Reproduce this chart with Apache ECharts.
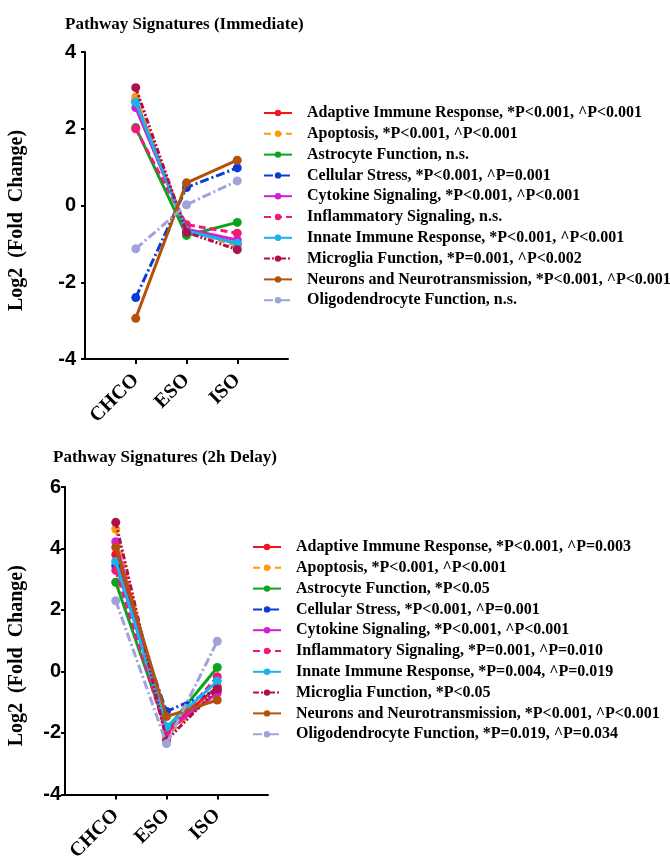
<!DOCTYPE html>
<html>
<head>
<meta charset="utf-8">
<script src="https://cdn.jsdelivr.net/npm/echarts@6/dist/echarts.min.js"></script>
<style>
  html, body { margin: 0; padding: 0; background: #fff; }
  #chart { width: 670px; height: 864px; }
</style>
</head>
<body>
<div id="chart"></div>
<script>
// categories on the x axis
const categories = ['CHCO', 'ESO', 'ISO'];

const pathways = [
  'Adaptive Immune Response', 'Apoptosis', 'Astrocyte Function', 'Cellular Stress',
  'Cytokine Signaling', 'Inflammatory Signaling', 'Innate Immune Response',
  'Microglia Function', 'Neurons and Neurotransmission', 'Oligodendrocyte Function'
];

const statsImmediate = [
  '*P<0.001, ^P<0.001', '*P<0.001, ^P<0.001', 'n.s.', '*P<0.001, ^P=0.001',
  '*P<0.001, ^P<0.001', 'n.s.', '*P<0.001, ^P<0.001', '*P=0.001, ^P<0.002',
  '*P<0.001, ^P<0.001', 'n.s.'
];
const statsDelay = [
  '*P<0.001, ^P=0.003', '*P<0.001, ^P<0.001', '*P<0.05', '*P<0.001, ^P=0.001',
  '*P<0.001, ^P<0.001', '*P=0.001, ^P=0.010', '*P=0.004, ^P=0.019', '*P<0.05',
  '*P<0.001, ^P<0.001', '*P=0.019, ^P=0.034'
];

// values per pathway: CHCO, ESO, ISO
const immediate = [
  [2.72, -0.62, -1.00],
  [2.83, -0.65, -1.05],
  [2.03, -0.78, -0.44],
  [-2.40, 0.47, 0.98],
  [2.55, -0.62, -0.90],
  [2.00, -0.50, -0.72],
  [2.69, -0.66, -0.99],
  [3.07, -0.70, -1.15],
  [-2.94, 0.59, 1.18],
  [-1.13, 0.02, 0.64]
];
const delay = [
  [3.80, -1.90, -0.50],
  [4.63, -2.10, -0.65],
  [2.90, -1.88, 0.13],
  [3.44, -1.30, -0.60],
  [4.22, -1.95, -0.70],
  [3.29, -2.05, -0.17],
  [3.58, -1.80, -0.32],
  [4.85, -2.24, -0.57],
  [4.04, -1.47, -0.93],
  [2.30, -2.35, 0.98]
];

const colors = ['#f5141e', '#ff9a10', '#0aa51e', '#0a3bd6', '#d21fd2',
                '#f2197a', '#16b4ef', '#b0104e', '#b4520a', '#9fa3d9'];
const dashes = ['solid', [7, 4], 'solid', [9, 3, 2, 3], 'solid',
                [7, 4], 'solid', [6, 2, 2, 2, 2, 2], 'solid', [9, 3, 2, 3]];

const serif = '"Liberation Serif", "Times New Roman", serif';

const myChart = echarts.init(document.getElementById('chart'));

function makeSeries(values, stats, idx) {
  return values.map((row, i) => ({
    name: pathways[i] + ', ' + stats[i],
    type: 'line',
    xAxisIndex: idx,
    yAxisIndex: idx,
    data: row.map((v, j) => [j + 1, v]),
    symbol: 'circle',
    symbolSize: 9,
    color: colors[i],
    lineStyle: { width: 3, type: dashes[i] },
    z: 2 + i
  }));
}

function xAxis(gridIndex) {
  return {
    type: 'value', gridIndex: gridIndex, min: 0, max: 4, interval: 1,
    splitLine: { show: false },
    axisLine: { show: true, onZero: false, lineStyle: { color: '#000', width: 2 } },
    axisTick: { show: true, customValues: [1, 2, 3], length: 5, lineStyle: { color: '#000', width: 2 } },
    axisLabel: {
      customValues: [1, 2, 3], rotate: 45, margin: 18,
      formatter: v => categories[v - 1] || '',
      color: '#000', fontFamily: serif, fontWeight: 'bold', fontSize: 20
    }
  };
}

function yAxis(gridIndex, min, max, gap, margin) {
  return {
    type: 'value', gridIndex: gridIndex, min: min, max: max, interval: 2,
    name: 'Log2  (Fold  Change)', nameLocation: 'middle', nameGap: gap,
    nameTextStyle: { color: '#000', fontFamily: serif, fontWeight: 'bold', fontSize: 20, padding: [0, 30, 0, 0] },
    splitLine: { show: false },
    axisLine: { show: true, lineStyle: { color: '#000', width: 2 } },
    axisTick: { show: true, length: 4, lineStyle: { color: '#000', width: 2 } },
    axisLabel: { margin: margin, color: '#000', fontFamily: 'Arial, "Liberation Sans", sans-serif', fontWeight: 'bold', fontSize: 20 }
  };
}

function legend(names, left, top) {
  return {
    orient: 'vertical', left: left, top: top,
    data: names, itemWidth: 28, itemHeight: 8, itemGap: 2.8,
    textStyle: { color: '#000', fontFamily: serif, fontWeight: 'bold', fontSize: 16, lineHeight: 18, padding: [0, 0, 0, 10] },
    selectedMode: false
  };
}

myChart.setOption({
  backgroundColor: '#fff',
  animation: false,
  title: [
    { text: 'Pathway Signatures (Immediate)', left: 60, top: 11,
      textStyle: { color: '#000', fontFamily: serif, fontWeight: 'bold', fontSize: 17 } },
    { text: 'Pathway Signatures (2h Delay)', left: 48, top: 444,
      textStyle: { color: '#000', fontFamily: serif, fontWeight: 'bold', fontSize: 17 } }
  ],
  legend: [
    legend(pathways.map((p, i) => p + ', ' + statsImmediate[i]), 258, 99),
    legend(pathways.map((p, i) => p + ', ' + statsDelay[i]), 247, 533)
  ],
  grid: [
    { left: 85, top: 52, width: 203, height: 307 },
    { left: 65, top: 487, width: 203, height: 309 }
  ],
  xAxis: [xAxis(0), xAxis(1)],
  yAxis: [yAxis(0, -4, 4, 58, 9), yAxis(1, -4, 6, 38, 4)],
  series: makeSeries(immediate, statsImmediate, 0).concat(makeSeries(delay, statsDelay, 1))
});
</script>
</body>
</html>
